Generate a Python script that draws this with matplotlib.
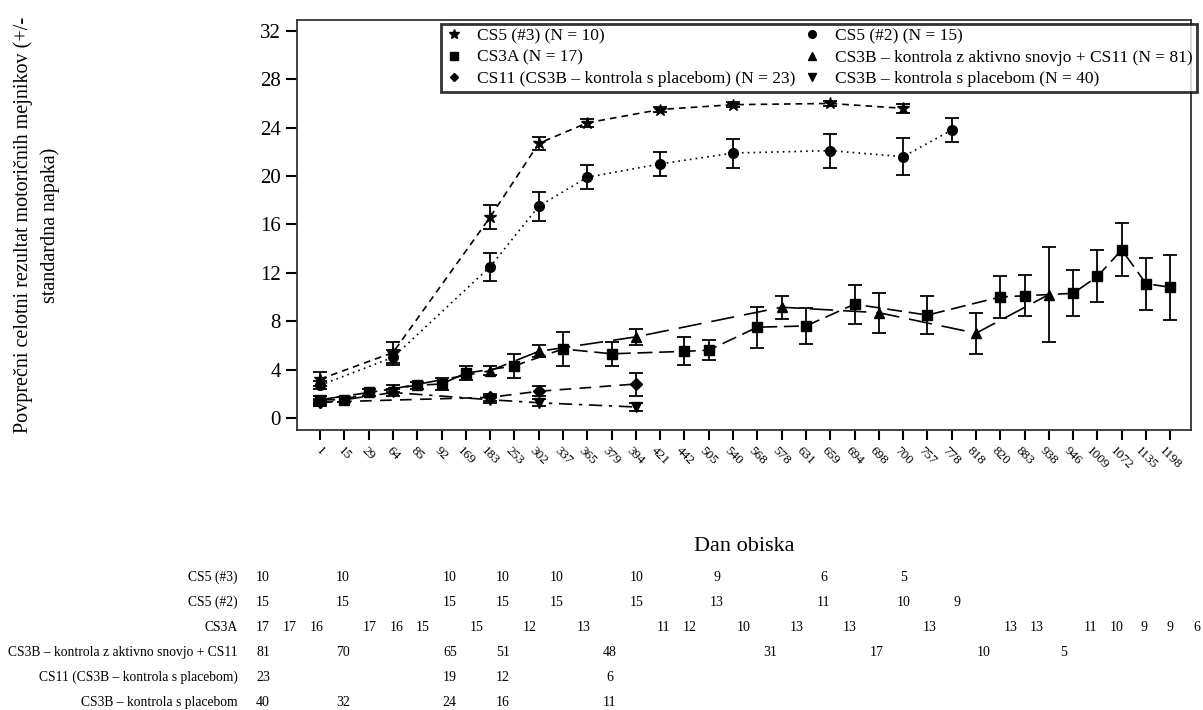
import matplotlib
matplotlib.use('Agg')
import matplotlib.pyplot as plt
from matplotlib.lines import Line2D

plt.rcParams['font.family'] = ['Liberation Serif', 'DejaVu Serif']

# visit days shown on the categorical x axis
days = [1, 15, 29, 64, 85, 92, 169, 183, 253, 302, 337, 365, 379, 394, 421, 442,
        505, 540, 568, 578, 631, 659, 694, 698, 700, 757, 778, 818, 820, 883, 938,
        946, 1009, 1072, 1135, 1198]

# CS5 (#3)
cs5_3_days = [1, 64, 183, 302, 365, 421, 540, 659, 700]
cs5_3_mean = [3.2, 5.4, 16.6, 22.7, 24.4, 25.5, 25.9, 26.0, 25.6]
cs5_3_se = [0.6, 0.85, 1.0, 0.55, 0.35, 0.2, 0.2, 0.2, 0.35]
cs5_3_n = [10, 10, 10, 10, 10, 10, 9, 6, 5]

# CS5 (#2)
cs5_2_days = [1, 64, 183, 302, 365, 421, 540, 659, 700, 778]
cs5_2_mean = [2.7, 5.0, 12.5, 17.5, 19.9, 21.0, 21.9, 22.1, 21.6, 23.8]
cs5_2_se = [0.35, 0.6, 1.15, 1.2, 1.0, 1.0, 1.2, 1.4, 1.55, 1.0]
cs5_2_n = [15, 15, 15, 15, 15, 15, 13, 11, 10, 9]

# CS3A
cs3a_days = [1, 15, 29, 85, 92, 169, 253, 337, 379, 442, 505, 568, 631, 694, 757,
             820, 883, 946, 1009, 1072, 1135, 1198]
cs3a_mean = [1.5, 1.5, 2.1, 2.7, 2.8, 3.7, 4.3, 5.7, 5.3, 5.5, 5.6, 7.5, 7.6, 9.4,
             8.5, 10.0, 10.1, 10.3, 11.7, 13.9, 11.1, 10.8]
cs3a_se = [0.3, 0.2, 0.3, 0.3, 0.5, 0.6, 1.0, 1.4, 1.0, 1.15, 0.85, 1.7, 1.45, 1.6,
           1.6, 1.7, 1.7, 1.9, 2.15, 2.2, 2.15, 2.7]
cs3a_n = [17, 17, 16, 17, 16, 15, 15, 12, 13, 11, 12, 10, 13, 13, 13, 13, 13, 11,
          10, 9, 9, 6]

# CS3B - active control + CS11
cs3b_akt_days = [1, 64, 183, 302, 394, 578, 698, 818, 938]
cs3b_akt_mean = [1.5, 2.4, 3.9, 5.5, 6.7, 9.15, 8.7, 7.0, 10.2]
cs3b_akt_se = [0.3, 0.3, 0.35, 0.5, 0.65, 0.95, 1.65, 1.7, 3.9]
cs3b_akt_n = [81, 70, 65, 51, 48, 31, 17, 10, 5]

# CS11 (CS3B - placebo control)
cs11_days = [1, 183, 302, 394]
cs11_mean = [1.3, 1.7, 2.2, 2.8]
cs11_se = [0.25, 0.3, 0.4, 0.95]
cs11_n = [23, 19, 12, 6]

# CS3B - placebo control
cs3b_pl_days = [1, 64, 183, 302, 394]
cs3b_pl_mean = [1.2, 2.1, 1.5, 1.25, 0.9]
cs3b_pl_se = [0.2, 0.3, 0.3, 0.3, 0.3]
cs3b_pl_n = [40, 32, 24, 16, 11]

series = [
    ('CS5 (#3)', 'CS5 (#3) (N = 10)', cs5_3_days, cs5_3_mean, cs5_3_se, cs5_3_n, '*', (0, (4, 3)), 9),
    ('CS5 (#2)', 'CS5 (#2) (N = 15)', cs5_2_days, cs5_2_mean, cs5_2_se, cs5_2_n, 'o', (0, (1, 2.5)), 7),
    ('CS3A', 'CS3A (N = 17)', cs3a_days, cs3a_mean, cs3a_se, cs3a_n, 's', (0, (9, 4)), 7),
    ('CS3B – kontrola z aktivno snovjo + CS11', 'CS3B – kontrola z aktivno snovjo + CS11 (N = 81)',
     cs3b_akt_days, cs3b_akt_mean, cs3b_akt_se, cs3b_akt_n, '^', (0, (14, 6)), 7),
    ('CS11 (CS3B – kontrola s placebom)', 'CS11 (CS3B – kontrola s placebom) (N = 23)',
     cs11_days, cs11_mean, cs11_se, cs11_n, 'D', (0, (7, 5)), 6),
    ('CS3B – kontrola s placebom', 'CS3B – kontrola s placebom (N = 40)',
     cs3b_pl_days, cs3b_pl_mean, cs3b_pl_se, cs3b_pl_n, 'v', (0, (8, 4, 2, 4)), 7),
]

fig = plt.figure(figsize=(12.03, 7.10), dpi=100)
ax = fig.add_axes([0.2469, 0.3944, 0.7431, 0.5774])

handles = {}
for name, leg, d, m, se, n, mk, ls, ms in series:
    x = [days.index(v) for v in d]
    ax.errorbar(x, m, yerr=se, fmt=mk, linestyle=ls, color='k', lw=1.2,
                markersize=ms, elinewidth=1.3, capsize=5, capthick=1.3)
    handles[name] = Line2D([], [], marker=mk, color='k', linestyle='none',
                           markersize=ms - 1.5, label=leg)

ax.set_xlim(-0.95, 35.85)
ax.set_ylim(-1, 32.9)
ax.set_yticks(range(0, 33, 4))
ax.set_xticks(range(len(days)))
ax.set_xticklabels([str(v) for v in days], rotation=-45, ha='center', fontsize=9.5)
ax.tick_params(axis='y', labelsize=15, length=8, width=1.5, direction='out')
ax.tick_params(axis='x', length=7, width=1.5, direction='out')
for sp in ax.spines.values():
    sp.set_linewidth(1.3)
    sp.set_color('#333333')

ax.set_ylabel('Povprečni celotni rezultat motoričnih mejnikov (+/-\nstandardna napaka)',
              fontsize=14.5, multialignment='center', linespacing=1.5)
ax.yaxis.set_label_coords(-0.265, 0.5)
ax.set_xlabel('Dan obiska', fontsize=16)
ax.xaxis.set_label_coords(0.5, -0.26)

order = ['CS5 (#3)', 'CS3A', 'CS11 (CS3B – kontrola s placebom)',
         'CS5 (#2)', 'CS3B – kontrola z aktivno snovjo + CS11', 'CS3B – kontrola s placebom']
lg = ax.legend(handles=[handles[k] for k in order], ncol=2, loc='upper left',
               bbox_to_anchor=(441 / 1203, 1 - 24 / 710), bbox_transform=fig.transFigure,
               fontsize=12.5, frameon=True, fancybox=False, borderpad=0.25,
               labelspacing=0.3, handlelength=1.0, handletextpad=0.8,
               columnspacing=0.5, borderaxespad=0)
lg.get_frame().set_edgecolor('k')
lg.get_frame().set_linewidth(2)

# numbers at risk table under the chart
tab = fig.add_axes([263 / 1203, 0.0, 934 / 1203, 145 / 710])
tab.set_xlim(0, 35)
tab.set_ylim(5.3, -0.5)
tab.axis('off')
for r, (name, leg, d, m, se, n, mk, ls, ms) in enumerate(series):
    tab.text(-0.94, r, name, ha='right', va='center', fontsize=9.8)
    for v, cnt in zip(d, n):
        tab.text(days.index(v), r, str(cnt), ha='center', va='center', fontsize=10)

fig.savefig('out.png', dpi=100)
